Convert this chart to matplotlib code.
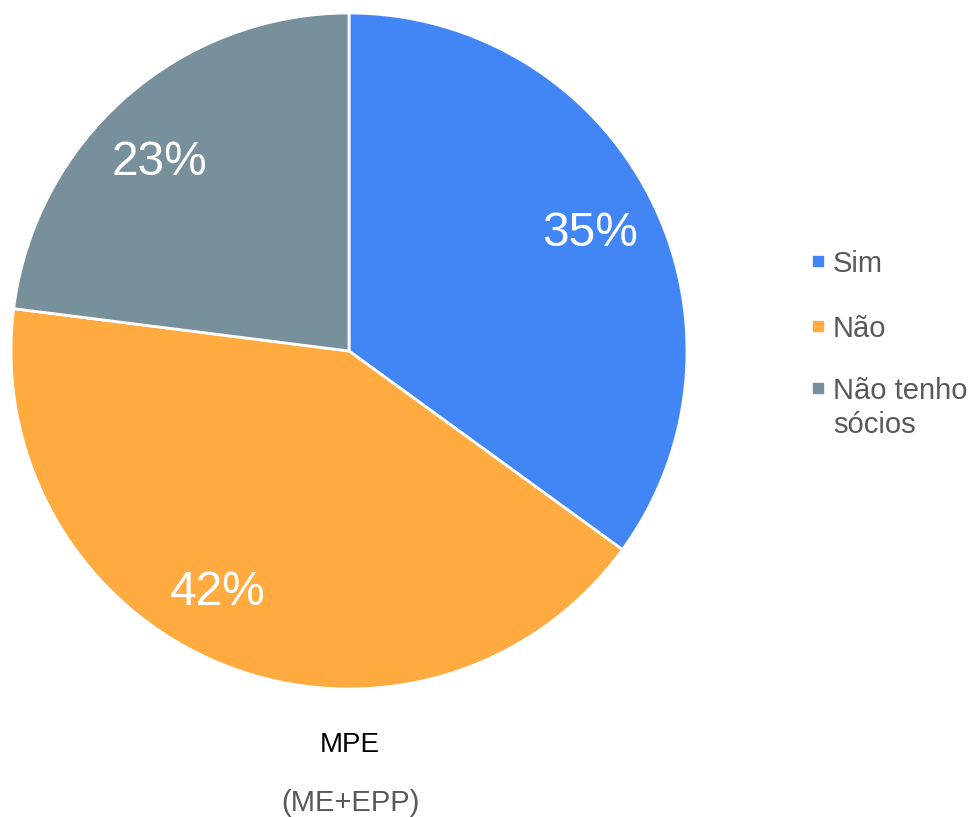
import numpy as np
import matplotlib.pyplot as plt
from matplotlib.patches import Rectangle

plt.rcParams['font.family'] = ['Liberation Sans', 'DejaVu Sans']

labels = ['Sim', 'Não', 'Não tenho\nsócios']
values = [35, 42, 23]
colors = ['#4285F4', '#FFAB40', '#78909C']
# small nudges (degrees) of the % labels, as in the original
label_shift = [0, -7.5, 3]

W, H = 972, 817
fig = plt.figure(figsize=(W / 100, H / 100), dpi=100)

cx, cy, r = 349, 351, 338
ax = fig.add_axes([(cx - r) / W, (H - cy - r) / H, 2 * r / W, 2 * r / H])
wedges, texts, autotexts = ax.pie(values, colors=colors, startangle=90, counterclock=False,
                                  autopct='%1.0f%%', pctdistance=0.8,
                                  wedgeprops=dict(edgecolor='white', linewidth=2),
                                  textprops=dict(color='white', fontsize=34.5))
for w, t, s in zip(wedges, autotexts, label_shift):
    ang = np.deg2rad((w.theta1 + w.theta2) / 2 + s)
    t.set_position((0.8 * np.cos(ang), 0.8 * np.sin(ang)))
    t.set_va('center_baseline')
ax.set_xlim(-1, 1)
ax.set_ylim(-1, 1)
ax.set_aspect('equal')
ax.axis('off')

# legend drawn by hand so the square sits on the first line
rows_y = [261, 326, 388]
for lab, col, y in zip(labels, colors, rows_y):
    fig.patches.append(Rectangle((813 / W, (H - y - 5) / H), 10 / W, 10 / H,
                                 transform=fig.transFigure, color=col))
    first, *rest = lab.split('\n')
    fig.text(833 / W, (H - y) / H, first, fontsize=21, color='#595959', va='center_baseline')
    for i, line in enumerate(rest, start=1):
        fig.text(833 / W, (H - y - 34 * i) / H, line, fontsize=21, color='#595959',
                 va='center_baseline')

fig.text(350 / W, (H - 742) / H, 'MPE', fontsize=20, color='black', ha='center',
         va='center_baseline')
fig.text(350 / W, (H - 800) / H, '(ME+EPP)', fontsize=21, color='#595959', ha='center',
         va='center_baseline')

fig.savefig('out.png', dpi=100, facecolor='white')
